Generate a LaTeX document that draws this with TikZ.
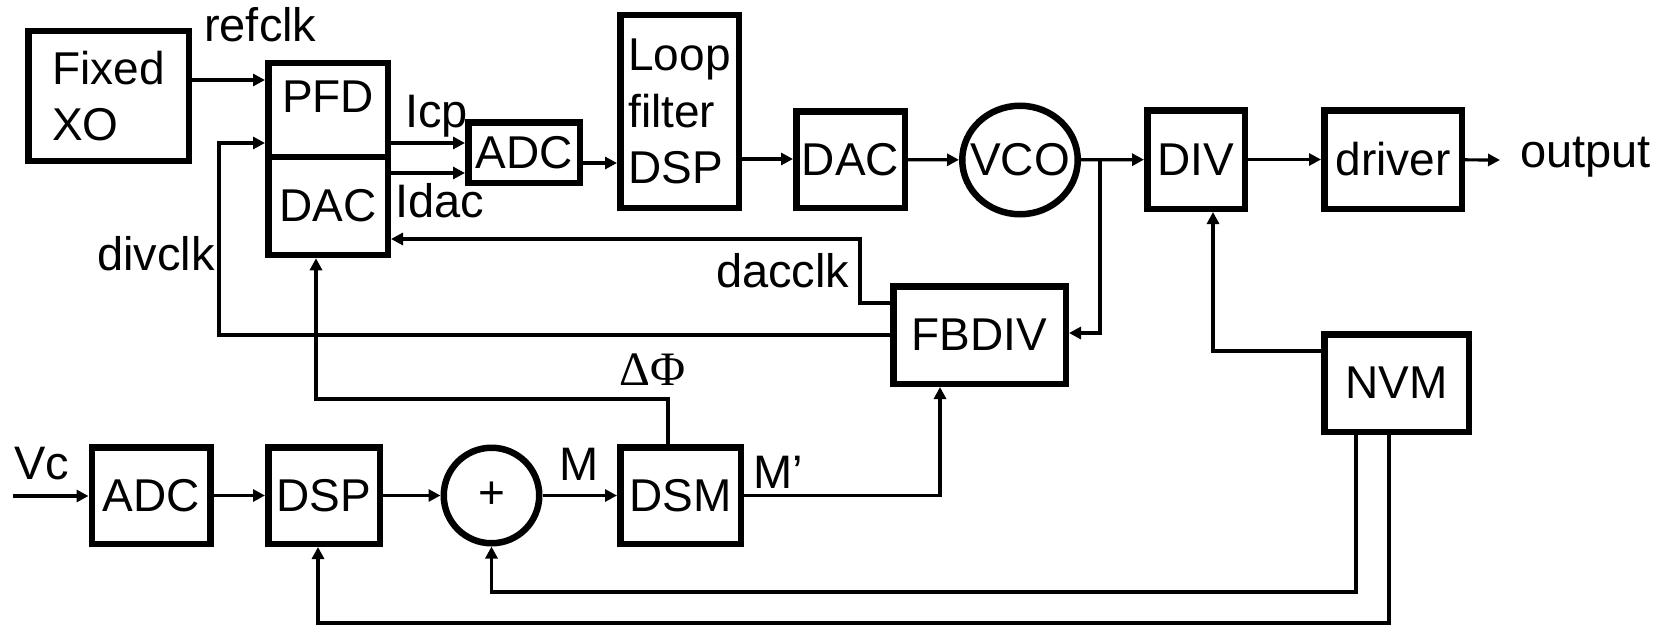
\documentclass[tikz,border=0pt]{standalone}
\usepackage{fontspec}
\setmainfont{Liberation Sans}
\newfontfamily\greekserif{Liberation Serif}
\usetikzlibrary{arrows.meta,shapes.geometric}
\begin{document}
\begin{tikzpicture}[x=1pt,y=-1pt,
  font=\fontsize{46}{56.5}\selectfont,
  blk/.style={draw, line width=6.5pt, inner sep=0pt},
  lbl/.style={inner sep=0pt, anchor=base west, font=\fontsize{47}{56}\selectfont},
  wire/.style={line width=3.2pt},
  >={Triangle[length=12pt,width=12pt]}]
\useasboundingbox (0,0) rectangle (1670,626);
\node[blk, align=left, minimum width=160.5, minimum height=129.5] (xo) at (108.5,96) {Fixed\\XO};
\node[blk, minimum width=119.5, minimum height=94, text depth=26pt] (pfd) at (328,110) {PFD};
\node[blk, minimum width=119.5, minimum height=98] (dac1) at (328,206) {DAC};
\node[blk, minimum width=111.5, minimum height=60.5] (adc1) at (524,152.5) {ADC};
\node[blk, align=left, minimum width=118.5, minimum height=192.5] (lf) at (679.5,111.5) {Loop\\filter\\DSP};
\node[blk, minimum width=108.5, minimum height=96.5] (dac2) at (850.5,159.5) {DAC};
\node[blk, ellipse, minimum width=115.5, minimum height=108.5, label=center:VCO] (vco) at (1020,160) {};
\node[blk, minimum width=97.5, minimum height=98.5] (div) at (1196,159.5) {DIV};
\node[blk, minimum width=137.5, minimum height=98.5] (drv) at (1393,159.5) {driver};
\node[blk, minimum width=172.5, minimum height=97.5] (fbdiv) at (979.5,335) {FBDIV};
\node[blk, minimum width=144.5, minimum height=97.5] (nvm) at (1396.5,383) {NVM};
\node[blk, minimum width=118.5, minimum height=96.5] (adc2) at (151,495.5) {ADC};
\node[blk, minimum width=111.5, minimum height=96.5] (dsp) at (324,495.5) {DSP};
\node[blk, circle, minimum size=95.5] (sum) at (491.5,495.5) {+};
\node[blk, minimum width=120.5, minimum height=96.5] (dsm) at (680.5,495.5) {DSM};
\node[lbl] (refclk) at (204,42) {refclk};
\node[lbl] (icp) at (405,127) {Icp};
\node[lbl] (idac) at (395,217) {Idac};
\node[lbl] (divclk) at (97,270) {divclk};
\node[lbl] (dacclk) at (716,287) {dacclk};
\node[lbl, font=\greekserif\fontsize{48}{56}\selectfont] (dphi) at (619,385) {ΔΦ};
\node[lbl] (vc) at (14,479) {Vc};
\node[lbl] (m) at (559,480) {M};
\node[lbl] (mp) at (753,488) {M’};
\node[lbl] (output) at (1520,167) {output};
\coordinate (outend) at (1500,160);
\coordinate (tap) at (1100,160);
\coordinate (vcin) at (13,496);
\draw[wire,->] (xo.east |- 0,80) -- (pfd.west |- 0,80);
\draw[wire,->] (pfd.east |- 0,143) -- (adc1.west |- 0,143);
\draw[wire,->] (dac1.east |- 0,173) -- (adc1.west |- 0,173);
\draw[wire,->] (adc1.east |- 0,163) -- (lf.west |- 0,163);
\draw[wire,->] (lf.east |- 0,159) -- (dac2.west |- 0,159);
\draw[wire,->] (dac2) -- (vco);
\draw[wire,->] (vco) -- (div);
\draw[wire,->] (div) -- (drv);
\draw[wire,->] (drv) -- (outend);
\draw[wire,->] (tap) |- (fbdiv.east |- 0,333);
\draw[wire,->] (fbdiv.west |- 0,303) -| (860,270) |- (dac1.east |- 0,239);
\draw[wire,->] (fbdiv.west |- 0,335) -| (219,240) |- (pfd.west |- 0,143);
\draw[wire,->] (dsm.north -| 668,0) -- (668,399) -| (dac1.south -| 316,0);
\draw[wire,->] (dsm) -| (fbdiv.south -| 940,0);
\draw[wire,->] (nvm.west |- 0,351) -| (div.south -| 1213,0);
\draw[wire,->] (nvm.south -| 1356,0) -- (1356,592) -| (sum.south);
\draw[wire,->] (nvm.south -| 1389,0) -- (1389,623) -| (dsp.south -| 318,0);
\draw[wire,->] (vcin) -- (adc2.west |- vcin);
\draw[wire,->] (adc2) -- (dsp);
\draw[wire,->] (dsp) -- (sum);
\draw[wire,->] (sum) -- (dsm);
\end{tikzpicture}
\end{document}
